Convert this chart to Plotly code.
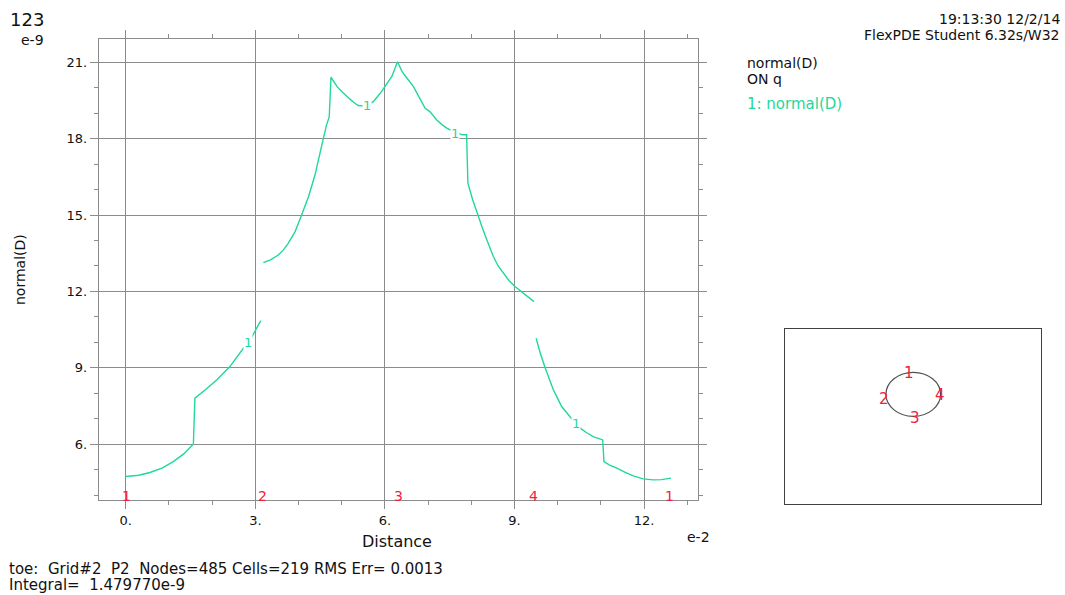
import plotly.graph_objects as go

W, H = 1065, 595
FONT = "DejaVu Sans"
GRID = "#8c8c8c"
CURVE = "#1fd89a"
MARK = "#f2203c"

# normal(D) along boundary q, one trace per boundary segment
# distance in units of e-2, value in units of e-9
seg1_dist = [0.0, 0.30, 0.56, 0.85, 1.10, 1.35, 1.565, 1.60, 1.85, 2.11, 2.41, 2.70, 2.92, 3.125]
seg1_val = [4.73, 4.78, 4.89, 5.07, 5.32, 5.63, 6.01, 7.81, 8.15, 8.53, 9.05, 9.70, 10.22, 10.85]

seg2_dist = [3.185, 3.35, 3.53, 3.65, 3.76, 3.92, 4.07, 4.23, 4.38, 4.48, 4.57, 4.65, 4.71, 4.75,
             4.82, 4.90, 5.00, 5.10, 5.19, 5.28, 5.38, 5.55, 5.73, 5.89, 6.00, 6.16, 6.29]
seg2_val = [13.13, 13.24, 13.43, 13.63, 13.89, 14.35, 15.00, 15.72, 16.57, 17.25, 17.98, 18.55, 18.85, 20.41,
            20.20, 20.02, 19.85, 19.68, 19.55, 19.42, 19.30, 19.28, 19.45, 19.78, 20.04, 20.44, 21.02]

seg3_dist = [6.29, 6.40, 6.52, 6.66, 6.80, 6.93, 7.04, 7.20, 7.32, 7.43, 7.62, 7.80, 7.89, 7.90, 7.92,
             8.03, 8.16, 8.26, 8.36, 8.51, 8.62, 8.74, 8.87, 9.01, 9.25, 9.45]
seg3_val = [21.02, 20.62, 20.35, 20.04, 19.60, 19.19, 19.06, 18.73, 18.55, 18.41, 18.25, 18.15, 18.15, 17.40, 16.25,
            15.60, 14.94, 14.47, 14.02, 13.37, 13.00, 12.72, 12.43, 12.19, 11.86, 11.60]

seg4_dist = [9.50, 9.60, 9.71, 9.80, 9.90, 10.00, 10.09, 10.28, 10.40, 10.52, 10.67, 10.82, 11.04, 11.07, 11.20,
             11.37, 11.55, 11.75, 11.98, 12.21, 12.40, 12.62]
seg4_val = [10.16, 9.55, 8.99, 8.55, 8.13, 7.79, 7.48, 7.09, 6.85, 6.63, 6.45, 6.30, 6.17, 5.32, 5.18,
            5.06, 4.90, 4.76, 4.64, 4.60, 4.61, 4.67]

segments = [(seg1_dist, seg1_val), (seg2_dist, seg2_val), (seg3_dist, seg3_val), (seg4_dist, seg4_val)]

# curve id markers drawn on each segment
curve_label_dist = [2.82, 5.58, 7.62, 10.42]
curve_label_val = [9.98, 19.32, 18.21, 6.80]

# boundary point numbers along the distance axis
boundary_dist = [0.0, 3.1416, 6.2832, 9.4248, 12.5664]
boundary_ids = ["1", "2", "3", "4", "1"]

x_ticks = [0, 3, 6, 9, 12]
x_ticktext = ["0.", "3.", "6.", "9.", "12."]
y_ticks = [6, 9, 12, 15, 18, 21]
y_ticktext = ["6.", "9.", "12.", "15.", "18.", "21."]

x_range = [-0.62, 13.24]
y_range = [3.81, 21.90]

# domain inset: circle of radius 2 (e-2) with boundary point numbers
circle_center = (0.0, 0.0)
circle_radius = 2.0
inset_label_x = [-0.29, -2.15, 0.12, 1.98]
inset_label_y = [1.96, -0.40, -2.13, -0.04]
inset_ids = ["1", "2", "3", "4"]
inset_x_range = [-9.40, 9.36]
inset_y_range = [-9.97, 5.91]

fig = go.Figure()

for d, v in segments:
    fig.add_trace(go.Scatter(x=d, y=v, mode="lines", line=dict(color=CURVE, width=1.4),
                             showlegend=False, hoverinfo="skip", xaxis="x", yaxis="y"))

for cx, cy in zip(curve_label_dist, curve_label_val):
    fig.add_annotation(x=cx, y=cy, xref="x", yref="y", text="1", showarrow=False,
                       font=dict(family=FONT, size=13, color=CURVE),
                       bgcolor="white", borderpad=0)

for bx, bt in zip(boundary_dist, boundary_ids):
    fig.add_annotation(x=bx, y=y_range[0], xref="x", yref="y", text=bt, showarrow=False,
                       yanchor="bottom", yshift=-6, xshift=1,
                       font=dict(family=FONT, size=14, color=MARK))

# invisible trace to hold the inset axes
fig.add_trace(go.Scatter(x=[circle_center[0]], y=[circle_center[1]], mode="markers",
                         marker=dict(opacity=0), showlegend=False, hoverinfo="skip",
                         xaxis="x2", yaxis="y2"))

fig.add_shape(type="circle", xref="x2", yref="y2",
              x0=circle_center[0] - circle_radius, x1=circle_center[0] + circle_radius,
              y0=circle_center[1] - circle_radius, y1=circle_center[1] + circle_radius,
              line=dict(color="#505050", width=1.2))

for ix, iy, it in zip(inset_label_x, inset_label_y, inset_ids):
    fig.add_annotation(x=ix, y=iy, xref="x2", yref="y2", text=it, showarrow=False,
                       font=dict(family=FONT, size=15, color=MARK))


def px(x):
    return x / W


def py(y):
    return 1 - y / H


def label(x, y, text, size, xanchor="left", color="#111111", **kw):
    fig.add_annotation(x=px(x), y=py(y), xref="paper", yref="paper", text=text,
                       showarrow=False, xanchor=xanchor, yanchor="middle",
                       font=dict(family=FONT, size=size, color=color), **kw)


label(8, 20, "123", 18)
label(46, 40, "e-9", 14, xanchor="right")
label(1062, 19, "19:13:30 12/2/14", 14, xanchor="right")
label(1062, 35, "FlexPDE Student 6.32s/W32", 14, xanchor="right")
label(745, 63, "normal(D)", 14)
label(745, 79, "ON q", 14)
label(745, 104, "1: normal(D)", 15, color=CURVE)
label(397, 541, "Distance", 16, xanchor="center")
label(698, 537, "e-2", 14, xanchor="center")
label(7, 569, "toe:  Grid#2  P2  Nodes=485 Cells=219 RMS Err= 0.0013", 15)
label(7, 585, "Integral=  1.479770e-9", 15)
label(20, 270, "normal(D)", 14, xanchor="center", textangle=-90)

axis_common = dict(
    showline=True, linecolor=GRID, linewidth=1.3, mirror="allticks",
    showgrid=True, gridcolor=GRID, gridwidth=1.3, zeroline=False,
    ticks="outside", ticklen=8, tickcolor=GRID, tickwidth=1.3,
    tickfont=dict(family=FONT, size=13, color="#111111"),
    minor=dict(dtick=1, ticks="outside", ticklen=4, tickcolor=GRID, tickwidth=1, showgrid=False),
)

fig.update_layout(
    width=W, height=H,
    margin=dict(l=0, r=0, t=0, b=0),
    paper_bgcolor="white", plot_bgcolor="white",
    showlegend=False,
    xaxis=dict(domain=[99 / W, 697.7 / W], range=x_range, tickmode="array",
               tickvals=x_ticks, ticktext=x_ticktext, anchor="y", **axis_common),
    yaxis=dict(domain=[95 / H, 555.7 / H], range=y_range, tickmode="array",
               tickvals=y_ticks, ticktext=y_ticktext, anchor="x", **axis_common),
    xaxis2=dict(domain=[785 / W, 1041 / W], range=inset_x_range, anchor="y2",
                showline=True, mirror=True, linecolor="#404040", linewidth=1.3,
                showgrid=False, zeroline=False, showticklabels=False, ticks=""),
    yaxis2=dict(domain=[91 / H, 265.7 / H], range=inset_y_range, anchor="x2",
                showline=True, mirror=True, linecolor="#404040", linewidth=1.3,
                showgrid=False, zeroline=False, showticklabels=False, ticks=""),
)

fig.write_html("out.html")
